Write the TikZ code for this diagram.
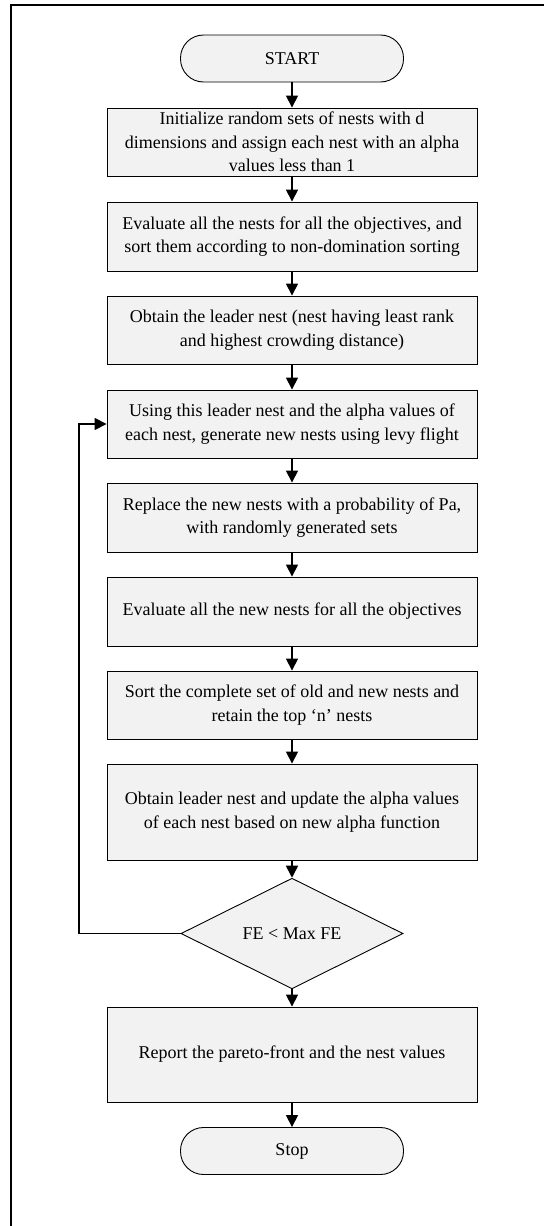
\documentclass[tikz,border=0pt]{standalone}
\usepackage{fontspec}
\setmainfont{Liberation Serif}
\usetikzlibrary{shapes.geometric,arrows.meta,positioning}
\definecolor{boxfill}{HTML}{F2F2F2}
\begin{document}
\begin{tikzpicture}[x=1pt,y=-1pt,
  every node/.style={font=\fontsize{18}{23.5}\selectfont},
  procbox/.style={draw=black,line width=0.9pt,fill=boxfill,minimum width=370pt,align=center,inner sep=0pt},
  termbox/.style={draw=black,line width=0.9pt,fill=boxfill,minimum width=223pt,minimum height=47pt,rounded corners=23pt,inner sep=0pt},
  decbox/.style={draw=black,line width=0.9pt,fill=boxfill,diamond,minimum width=222pt,minimum height=93pt,inner sep=0pt},
  flow/.style={line width=1.6pt,-{Triangle[length=12pt,width=12pt]}}
]
\useasboundingbox (0,0) rectangle (544,1226);
\draw[line width=2pt] (11,1226) -- (11,5) -- (544,5);

\node[termbox] (start) at (292,58.5) {START};
\node[procbox,minimum height=68pt] (b1) at (292,142) {Initialize random sets of nests with d\\dimensions and assign each nest with an alpha\\values less than 1};
\node[procbox,minimum height=69pt] (b2) at (292,236.5) {Evaluate all the nests for all the objectives, and\\sort them according to non-domination sorting};
\node[procbox,minimum height=68pt] (b3) at (292,330) {Obtain the leader nest (nest having least rank\\and highest crowding distance)};
\node[procbox,minimum height=68pt] (b4) at (292,424) {Using this leader nest and the alpha values of\\each nest, generate new nests using levy flight};
\node[procbox,minimum height=69pt] (b5) at (292,517.5) {Replace the new nests with a probability of Pa,\\with randomly generated sets};
\node[procbox,minimum height=69pt] (b6) at (292,611.5) {Evaluate all the new nests for all the objectives};
\node[procbox,minimum height=68pt] (b7) at (292,705) {Sort the complete set of old and new nests and\\retain the top `n' nests};
\node[procbox,minimum height=96pt] (b8) at (292,812) {Obtain leader nest and update the alpha values\\of each nest based on new alpha function};
\node[decbox] (dec) at (292,933.5) {FE < Max FE};
\node[procbox,minimum height=95pt] (b9) at (292,1054.5) {Report the pareto-front and the nest values};
\node[termbox] (stop) at (292,1151) {Stop};

\coordinate (lp) at (79,933.5);

\draw[flow] (start) -- (b1);
\draw[flow] (b1) -- (b2);
\draw[flow] (b2) -- (b3);
\draw[flow] (b3) -- (b4);
\draw[flow] (b4) -- (b5);
\draw[flow] (b5) -- (b6);
\draw[flow] (b6) -- (b7);
\draw[flow] (b7) -- (b8);
\draw[flow] (b8) -- (dec);
\draw[flow] (dec) -- (b9);
\draw[flow] (b9) -- (stop);
\draw[flow] (dec.west) -- (lp) |- (b4.west);
\end{tikzpicture}
\end{document}
